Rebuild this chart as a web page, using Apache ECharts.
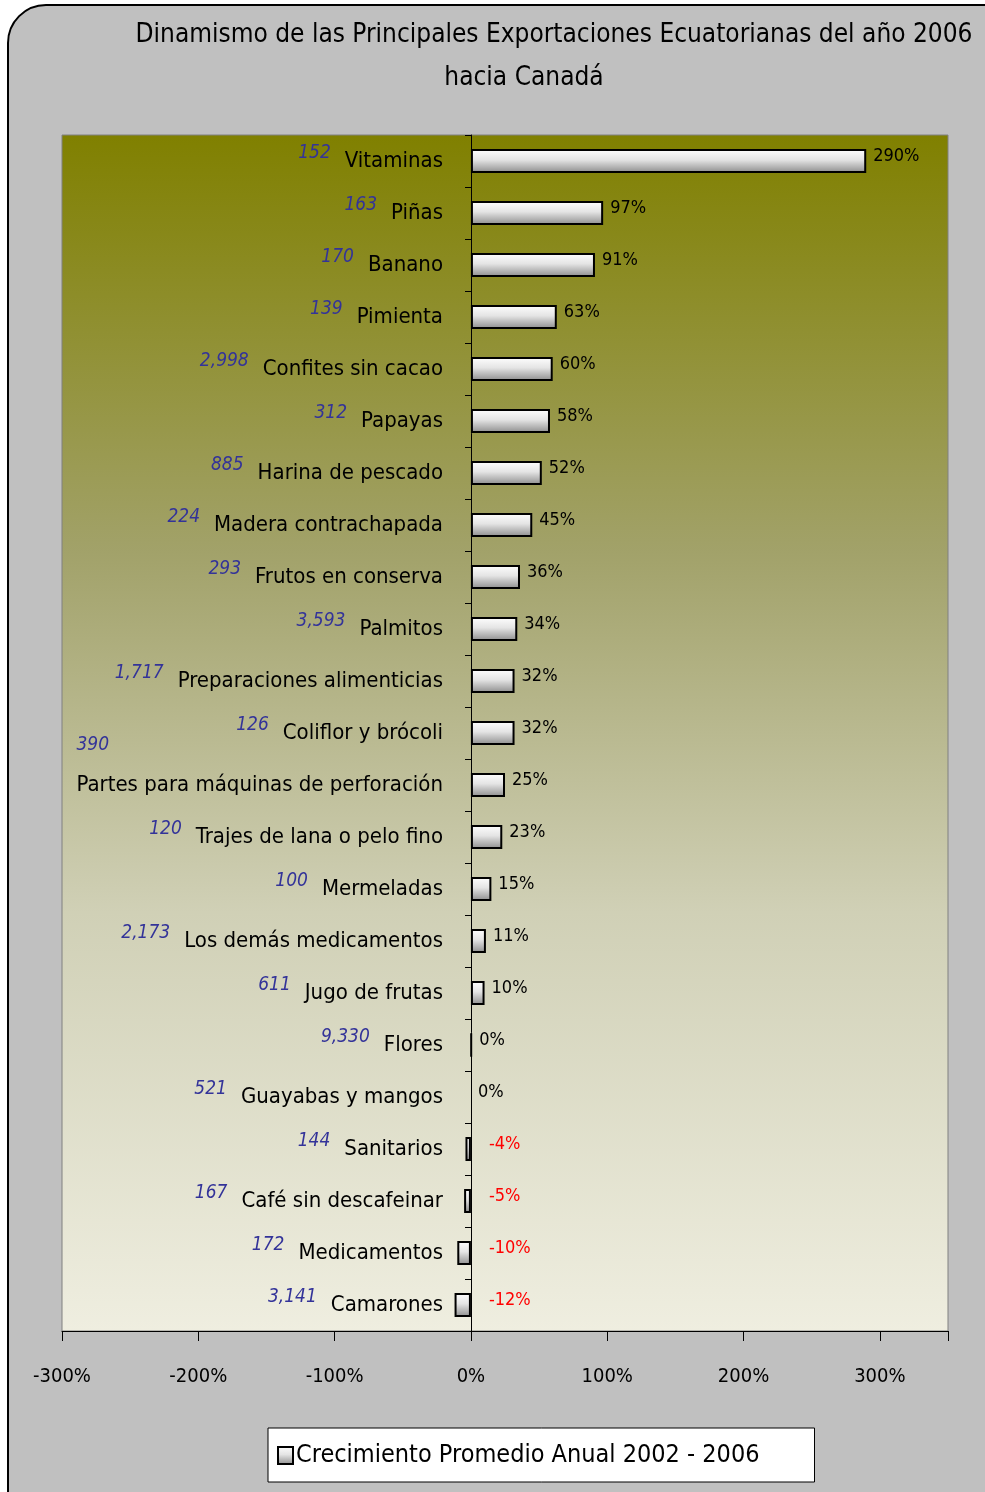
<!DOCTYPE html>
<html>
<head>
<meta charset="utf-8">
<script src="https://cdn.jsdelivr.net/npm/echarts@6/dist/echarts.min.js"></script>
<style>
  html, body { margin: 0; padding: 0; background: #ffffff; }
  #chart { width: 985px; height: 1492px; }
</style>
</head>
<body>
<div id="chart"></div>
<script>
// products, top to bottom
var productos = [
    'Vitaminas', 'Piñas', 'Banano', 'Pimienta', 'Confites sin cacao', 'Papayas',
    'Harina de pescado', 'Madera contrachapada', 'Frutos en conserva', 'Palmitos',
    'Preparaciones alimenticias', 'Coliflor y brócoli', 'Partes para máquinas de perforación',
    'Trajes de lana o pelo fino', 'Mermeladas', 'Los demás medicamentos', 'Jugo de frutas',
    'Flores', 'Guayabas y mangos', 'Sanitarios', 'Café sin descafeinar', 'Medicamentos', 'Camarones'
];
// blue numbers next to each product
var montos = [
    '152', '163', '170', '139', '2,998', '312', '885', '224', '293', '3,593',
    '1,717', '126', '390', '120', '100', '2,173', '611', '9,330', '521', '144',
    '167', '172', '3,141'
];
// crecimiento promedio anual 2002 - 2006 (%)
var crecimiento = [290, 97, 91, 63, 60, 58, 52, 45, 36, 34, 32, 32, 25, 23, 15, 11, 10, 0.4, 0, -4, -5, -10, -12];
var ejeX = [-300, -200, -100, 0, 100, 200, 300];

var FONT = '"Liberation Sans Narrow", "DejaVu Sans Condensed", Arial, sans-serif';

var chart = echarts.init(document.getElementById('chart'), null, { renderer: 'canvas' });

var barFill = new echarts.graphic.LinearGradient(0, 0, 0, 1, [
    { offset: 0, color: '#ffffff' },
    { offset: 0.45, color: '#e4e4e4' },
    { offset: 1, color: '#8c8c8c' }
]);

var seriesData = crecimiento.map(function (v) {
    var item = { value: v };
    if (v === 0) item.itemStyle = { borderWidth: 0 };
    if (v < 0) item.label = { color: '#ff0000', distance: 18 };
    return item;
});

// the category axis sits on the 0% line
var plotLeft = 62, plotWidth = 985 - 62 - 37, xMax = 350;
var zeroShift = Math.round((0 - ejeX[0]) / (xMax - ejeX[0]) * plotWidth);

var option = {
    backgroundColor: '#ffffff',
    animation: false,
    graphic: [
        {
            type: 'rect', z: -10,
            shape: { x: 8, y: 5, width: 1020, height: 1530, r: 38 },
            style: { fill: '#c0c0c0', stroke: '#000000', lineWidth: 2 }
        }
    ],
    title: [
        {
            text: 'Dinamismo de las Principales Exportaciones Ecuatorianas del año 2006',
            left: 549, top: 17, textAlign: 'center',
            textStyle: { fontFamily: FONT, fontSize: 26, fontWeight: 'normal', color: '#000' }
        },
        {
            text: 'hacia Canadá',
            left: 519, top: 60, textAlign: 'center',
            textStyle: { fontFamily: FONT, fontSize: 26, fontWeight: 'normal', color: '#000' }
        }
    ],
    legend: {
        data: ['Crecimiento Promedio Anual 2002 - 2006'],
        left: 268, top: 1428,
        orient: 'horizontal',
        backgroundColor: '#ffffff',
        borderColor: '#000000',
        borderWidth: 1,
        borderRadius: 0,
        padding: [15, 55, 14, 9],
        itemWidth: 15, itemHeight: 17, itemGap: 4,
        icon: 'rect',
        textStyle: { fontFamily: FONT, fontSize: 25, color: '#000', padding: [0, 0, 0, -2] }
    },
    grid: {
        left: plotLeft, right: 37, top: 135, bottom: 161,
        containLabel: false,
        outerBoundsMode: 'none',
        show: true,
        borderColor: '#808080',
        borderWidth: 1,
        backgroundColor: new echarts.graphic.LinearGradient(0, 0, 0, 1, [
            { offset: 0, color: '#808000' },
            { offset: 0.35, color: '#a2a26a' },
            { offset: 0.65, color: '#d0d0b6' },
            { offset: 1, color: '#efeee0' }
        ])
    },
    xAxis: {
        type: 'value',
        min: ejeX[0], max: xMax, interval: 100,
        splitLine: { show: false },
        axisLine: { show: true, lineStyle: { color: '#000', width: 1 } },
        axisTick: { show: true, length: 10, lineStyle: { color: '#000' } },
        axisLabel: {
            margin: 36,
            fontFamily: FONT, fontSize: 20, color: '#000',
            formatter: function (v) { return ejeX.indexOf(v) >= 0 ? v + '%' : ''; }
        }
    },
    yAxis: {
        type: 'category',
        inverse: true,
        data: productos,
        position: 'left',
        offset: -zeroShift,
        axisLine: { show: true, onZero: false, lineStyle: { color: '#000', width: 1 } },
        axisTick: { show: true, length: 6, lineStyle: { color: '#000' } },
        axisLabel: {
            margin: 28,
            fontFamily: FONT, fontSize: 22, color: '#000',
            formatter: function (value, idx) {
                var n = montos[idx];
                if (value.length > 30) {
                    return '{nl|' + n + '}\n{l2|' + value + '}';
                }
                return '{n|' + n + '}{g|}{l|' + value + '}';
            },
            rich: {
                n: { fontFamily: FONT, fontSize: 19, fontStyle: 'italic', color: '#333399', padding: [0, 0, 16, 0] },
                nl: { fontFamily: FONT, fontSize: 19, fontStyle: 'italic', color: '#333399', lineHeight: 58, align: 'left' },
                g: { width: 14 },
                l: { fontFamily: FONT, fontSize: 22, color: '#000' },
                l2: { fontFamily: FONT, fontSize: 22, color: '#000', padding: [0, 0, 58, 0] }
            }
        }
    },
    series: [
        {
            name: 'Crecimiento Promedio Anual 2002 - 2006',
            type: 'bar',
            data: seriesData,
            barWidth: 24,
            itemStyle: { color: barFill, borderColor: '#000000', borderWidth: 2 },
            label: {
                show: true,
                position: 'right',
                distance: 7,
                offset: [0, -5],
                fontFamily: FONT, fontSize: 18, color: '#000',
                formatter: function (p) { return Math.round(p.value) + '%'; }
            }
        }
    ]
};
chart.setOption(option);
</script>
</body>
</html>
